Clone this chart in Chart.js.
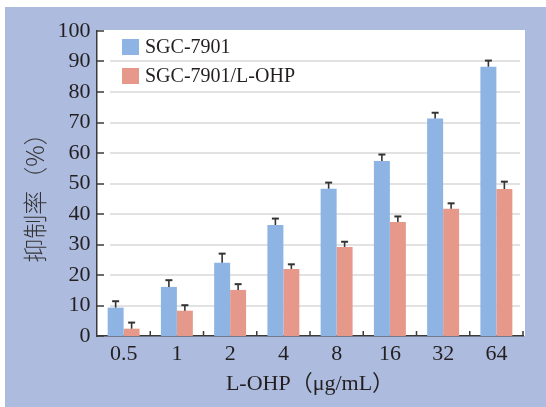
<!DOCTYPE html>
<html><head><meta charset="utf-8">
<script src="https://cdn.jsdelivr.net/npm/chart.js@4"></script>
<style>
html,body{margin:0;padding:0;background:#fff;}
#wrap{position:relative;width:546px;height:407px;overflow:hidden;}
#bg{position:absolute;left:5px;top:7px;right:0;bottom:0;background:#adbbde;}
canvas{position:absolute;left:0;top:0;}
</style></head><body>
<div id="wrap"><div id="bg"></div><canvas id="c" width="546" height="407"></canvas></div>
<script>
const categories = ['0.5', '1', '2', '4', '8', '16', '32', '64'];
const seriesNames = ['SGC-7901', 'SGC-7901/L-OHP'];
const sgc7901 = [9.3, 16.1, 24.0, 36.4, 48.3, 57.4, 71.3, 88.3];
const sgc7901Err = [2.1, 2.2, 3.0, 2.1, 2.0, 2.1, 1.9, 2.0];
const sgcLohp = [2.4, 8.3, 15.1, 22.0, 29.2, 37.4, 41.7, 48.2];
const sgcLohpErr = [2.0, 1.8, 1.9, 1.5, 1.7, 1.8, 1.8, 2.4];
const yMin = 0, yMax = 100, yStep = 10;
const xTitle = 'L-OHP（μg/mL）';
const yTitle = '抑制率（%）';

const INK = '#231f20';
const AXIS = '#3a3a3a';
const SERIF = '"Liberation Serif", "Times New Roman", serif';

const panelPlugin = {
  id: 'panel',
  beforeDraw(chart) {
    const {ctx, chartArea: a} = chart;
    ctx.save();
    ctx.fillStyle = '#ffffff';
    ctx.fillRect(a.left, a.top - 1, a.right - a.left + 2, a.bottom - a.top + 1);
    ctx.restore();
  },
  beforeDatasetsDraw(chart) {
    const {ctx, chartArea: a, scales: {y}} = chart;
    ctx.save();
    ctx.strokeStyle = '#e2e2e2';
    ctx.lineWidth = 2;
    for (let v = yMin + yStep; v < yMax; v += yStep) {
      const py = Math.round(y.getPixelForValue(v));
      ctx.beginPath();
      ctx.moveTo(a.left + 13, py);
      ctx.lineTo(a.right - 3, py);
      ctx.stroke();
    }
    ctx.restore();
  },
  afterDatasetsDraw(chart) {
    const {ctx, chartArea: a, scales: {x, y}} = chart;
    ctx.save();
    // error bars
    ctx.strokeStyle = '#333333';
    chart.data.datasets.forEach((ds, d) => {
      const meta = chart.getDatasetMeta(d);
      meta.data.forEach((bar, i) => {
        const top = y.getPixelForValue(ds.data[i] + ds.errors[i]);
        ctx.lineWidth = 1.6;
        ctx.beginPath();
        ctx.moveTo(bar.x, bar.y);
        ctx.lineTo(bar.x, top);
        ctx.stroke();
        ctx.lineWidth = 2;
        ctx.beginPath();
        ctx.moveTo(bar.x - 3.5, top);
        ctx.lineTo(bar.x + 3.5, top);
        ctx.stroke();
      });
    });
    // inward tick marks
    ctx.strokeStyle = AXIS;
    ctx.lineWidth = 1.5;
    for (let v = yMin; v <= yMax; v += yStep) {
      const py = Math.round(y.getPixelForValue(v)) ;
      ctx.beginPath();
      ctx.moveTo(a.left, py);
      ctx.lineTo(a.left + 7, py);
      ctx.stroke();
    }
    const n = categories.length;
    for (let i = 1; i <= n; i++) {
      const px = a.left + (a.right - a.left) * i / n;
      ctx.beginPath();
      ctx.moveTo(px, a.bottom);
      ctx.lineTo(px, a.bottom - 5);
      ctx.stroke();
    }
    ctx.restore();
  },
  afterDraw(chart) {
    const {ctx} = chart;
    ctx.save();
    // legend
    chart.data.datasets.forEach((ds, d) => {
      const top = 39 + d * 29;
      ctx.fillStyle = ds.backgroundColor;
      ctx.fillRect(122, top, 17, 16);
      ctx.fillStyle = INK;
      ctx.font = '20px ' + SERIF;
      ctx.textAlign = 'left';
      ctx.textBaseline = 'middle';
      ctx.fillText(ds.label, 145, top + 8.5);
    });
    // y title
    ctx.translate(35, 192);
    ctx.rotate(-Math.PI / 2);
    ctx.fillStyle = '#333333';
    ctx.font = '300 24px "Noto Sans CJK SC"';
    ctx.textAlign = 'center';
    ctx.textBaseline = 'middle';
    ctx.fillText(yTitle, 0, 0);
    ctx.restore();
  }
};

new Chart(document.getElementById('c'), {
  type: 'bar',
  data: {
    labels: categories,
    datasets: [
      {label: seriesNames[0], data: sgc7901, errors: sgc7901Err, backgroundColor: '#8db4e2'},
      {label: seriesNames[1], data: sgcLohp, errors: sgcLohpErr, backgroundColor: '#e6998a'}
    ]
  },
  options: {
    responsive: false,
    animation: false,
    devicePixelRatio: 1,
    layout: {padding: {top: 31, right: 23, left: 0, bottom: 0}},
    datasets: {bar: {barPercentage: 1, categoryPercentage: 0.6, borderWidth: 0}},
    plugins: {legend: {display: false}, tooltip: {enabled: false}},
    scales: {
      x: {
        type: 'category',
        offset: true,
        grid: {display: false, drawTicks: false},
        border: {display: true, color: AXIS, width: 1.5},
        ticks: {font: {family: SERIF, size: 22}, color: INK, padding: 5},
        title: {display: true, text: xTitle, color: INK, font: {family: SERIF + ', "Noto Sans CJK SC"', size: 22}, padding: {top: 0, bottom: 10}},
        afterFit(s) { s.height = 71; }
      },
      y: {
        min: yMin, max: yMax,
        grid: {display: false, drawTicks: false},
        border: {display: true, color: AXIS, width: 1.5},
        ticks: {stepSize: yStep, font: {family: SERIF, size: 22}, color: INK, padding: 6.5},
        afterFit(s) { s.width = 97; }
      }
    }
  },
  plugins: [panelPlugin]
});
</script>
</body></html>
